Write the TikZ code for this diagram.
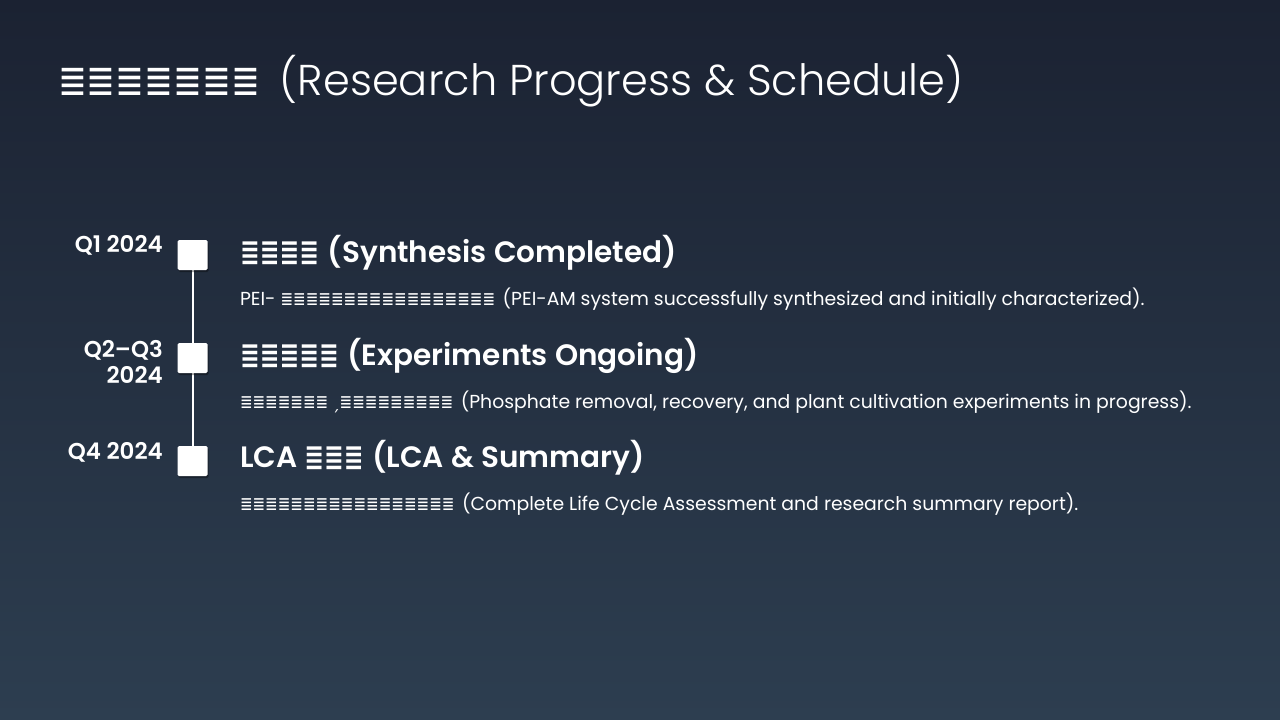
\documentclass[tikz,border=0pt]{standalone}
\usepackage{fontspec}
\setmainfont{Poppins}[BoldFont={Poppins SemiBold}]
\newfontfamily\titlefont{Poppins Light}
\newfontfamily\tofu[FakeStretch=0.8]{DejaVu Sans}
\usetikzlibrary{shadows}
\definecolor{bgtop}{HTML}{1B2232}
\definecolor{bgbot}{HTML}{2D3E50}
\pgfdeclarelayer{back}
\pgfdeclarelayer{lines}
\pgfsetlayers{back,lines,main}
\tikzset{
  txt/.style={inner sep=0pt, outer sep=0pt, text=white, anchor=base west},
  datelbl/.style={inner sep=0pt, text=white, anchor=base east, font=\fontsize{23}{27}\selectfont\bfseries},
  headlbl/.style={txt, font=\fontsize{29.6}{36}\selectfont\bfseries},
  desclbl/.style={txt, font=\fontsize{18.9}{22}\selectfont},
  marker/.style={draw=none, fill=white, minimum size=30bp, inner sep=0pt, rounded corners=1.5bp,
    drop shadow={shadow xshift=1bp, shadow yshift=-2bp, opacity=0.35, fill=black}},
  tline/.style={draw=white, line width=2bp}
}
\begin{document}
\begin{tikzpicture}[x=1bp, y=-1bp]
\begin{pgfonlayer}{back}
\shade[top color=bgtop, bottom color=bgbot] (0,0) rectangle (1280,720);
\end{pgfonlayer}
\useasboundingbox (0,0) rectangle (1280,720);

\node[txt, font=\fontsize{43.3}{50}\selectfont\titlefont] (title) at (58,96)
  {{\tofu ≣≣≣≣≣≣≣}\hspace{0.45em}(Research Progress \& Schedule)};

\node[marker] (m1) at (192.5,255) {};
\node[marker] (m2) at (192.5,358) {};
\node[marker] (m3) at (192.5,461) {};
\begin{pgfonlayer}{lines}
\draw[tline] (m1.center) -- (m2.center) -- (m3.center);
\end{pgfonlayer}

\node[datelbl] (d1) at (163,253) {Q1 2024};
\node[datelbl] (d2a) at (163,357) {Q2–Q3};
\node[datelbl] (d2b) at (163,383) {2024};
\node[datelbl] (d3) at (163,459) {Q4 2024};

\node[headlbl] (h1) at (240,262) {{\tofu ≣≣≣≣}\hspace{0.3em}(Synthesis Completed)};
\node[desclbl] (t1) at (240,305) {PEI- {\tofu ≣≣≣≣≣≣≣≣≣≣≣≣≣≣≣≣≣}\hspace{0.4em}(PEI-AM system successfully synthesized and initially characterized).};

\node[headlbl] (h2) at (240,365) {{\tofu ≣≣≣≣≣}\hspace{0.3em}(Experiments Ongoing)};
\node[desclbl] (t2) at (240,408) {{\tofu ≣≣≣≣≣≣≣}\hspace{0.2em}{\tofu ˏ≣≣≣≣≣≣≣≣≣}\hspace{0.4em}(Phosphate removal, recovery, and plant cultivation experiments in progress).};

\node[headlbl] (h3) at (240,467) {LCA {\tofu ≣≣≣}\hspace{0.3em}(LCA \& Summary)};
\node[desclbl] (t3) at (240,510) {{\tofu ≣≣≣≣≣≣≣≣≣≣≣≣≣≣≣≣≣}\hspace{0.4em}(Complete Life Cycle Assessment and research summary report).};
\end{tikzpicture}
\end{document}
